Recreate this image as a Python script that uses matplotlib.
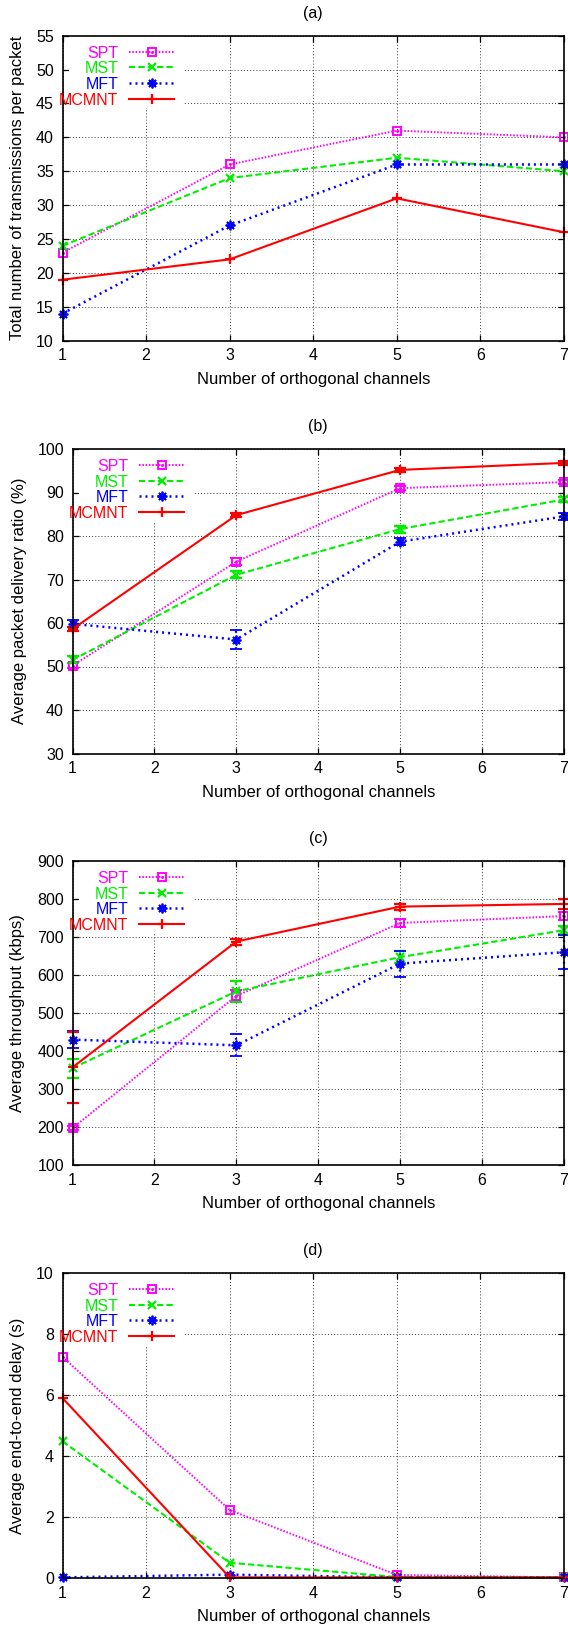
import matplotlib
matplotlib.use('Agg')
import matplotlib.pyplot as plt
from matplotlib.lines import Line2D
from matplotlib.patches import Rectangle

plt.rcParams['font.family'] = ['Liberation Sans', 'DejaVu Sans']
plt.rcParams['font.size'] = 11.5

W, H = 568, 1627

# ---------------- data ----------------
channels = [1, 3, 5, 7]
series_names = ['SPT', 'MST', 'MFT', 'MCMNT']

# (a) total number of transmissions per packet
tx_spt = [23, 36, 41, 40]
tx_mst = [24, 34, 37, 35]
tx_mft = [14, 27, 36, 36]
tx_mcmnt = [19, 22, 31, 26]

# (b) average packet delivery ratio (%)
pdr_spt = [50.2, 74.1, 91.0, 92.4]
pdr_mst = [51.5, 71.1, 81.6, 88.4]
pdr_mft = [59.8, 56.2, 78.7, 84.5]
pdr_mcmnt = [58.6, 84.8, 95.2, 96.8]
pdr_err_spt = [0.5, 0.8, 0.5, 0.5]
pdr_err_mst = [0.8, 0.8, 0.8, 0.5]
pdr_err_mft = [0.8, 2.2, 0.8, 0.8]
pdr_err_mcmnt = [0.5, 0.5, 0.5, 0.5]

# (c) average throughput (kbps)
thr_spt = [197, 545, 737, 755]
thr_mst = [355, 557, 647, 718]
thr_mft = [430, 415, 630, 660]
thr_mcmnt = [357, 688, 780, 787]
thr_err_spt = [5, 15, 10, 10]
thr_err_mst = [25, 28, 15, 10]
thr_err_mft = [23, 29, 34, 45]
thr_err_mcmnt = [93, 8, 8, 13]

# (d) average end-to-end delay (s)
dly_spt = [7.25, 2.23, 0.1, 0.02]
dly_mst = [4.48, 0.5, 0.03, 0.02]
dly_mft = [0.02, 0.11, 0.02, 0.02]
dly_mcmnt = [5.9, 0.02, 0.02, 0.02]

xticks = [1, 2, 3, 4, 5, 6, 7]
yticks_a = list(range(10, 56, 5))
yticks_b = list(range(30, 101, 10))
yticks_c = list(range(100, 901, 100))
yticks_d = list(range(0, 11, 2))
xlabel = 'Number of orthogonal channels'

# ---------------- styles ----------------
styles = {
    'SPT': dict(color='#ff00ff', ls=(0, (0.8, 0.9)), lw=1.4, marker='s', ms=6, mfc='none', mew=1.4),
    'MST': dict(color='#00ee00', ls=(0, (3.0, 1.5)), lw=1.5, marker='x', ms=5.5, mew=1.6),
    'MFT': dict(color='#0000ff', ls=(0, (0.8, 1.6)), lw=1.8, marker=(8, 2, 0), ms=7, mew=1.3),
    'MCMNT': dict(color='#ff0000', ls='-', lw=1.5, marker='+', ms=7, mew=1.6),
}

LABEL_FS = 12
TICK_FS = 11.5
KEY_FS = 11.5

fig = plt.figure(figsize=(W / 100, H / 100), dpi=100)


def panel(rect_px, tag, ylabel, ylim, yticks, values, errs=None, ylab_center=16.3):
    left, top, right, bottom = rect_px
    w, h = right - left, bottom - top
    ax = fig.add_axes([left / W, 1 - bottom / H, w / W, h / H])
    ax.set_axisbelow(True)
    for name, y in zip(series_names, values):
        st = styles[name]
        kw = dict(color=st['color'], linestyle=st['ls'], linewidth=st['lw'],
                  marker=st['marker'], markersize=st['ms'], markeredgewidth=st['mew'],
                  markerfacecolor=st.get('mfc', st['color']), zorder=3, clip_on=False)
        if errs is not None:
            e = errs[name]
            res = ax.errorbar(channels, y, yerr=e, capsize=4, capthick=1.2,
                              elinewidth=st['lw'] * 0.9, ecolor=st['color'], **kw)
            for bl in res[2]:
                bl.set_linestyle(st['ls'])
                bl.set_clip_on(False)
            for cl in res[1]:
                cl.set_clip_on(False)
        else:
            ax.plot(channels, y, **kw)
        if name == 'SPT':
            ax.plot(channels, y, linestyle='none', marker='.', markersize=2.2,
                    color=st['color'], zorder=4, clip_on=False)
    ax.set_xlim(1, 7)
    ax.set_ylim(*ylim)
    ax.set_xticks(xticks)
    ax.set_yticks(yticks)
    ax.grid(True, color='0.25', linewidth=0.7, linestyle=(0, (1, 2.2)))
    ax.tick_params(direction='in', top=True, right=True, length=4.2, width=0.9,
                   labelsize=TICK_FS)
    ax.tick_params(axis='x', pad=5.5)
    ax.tick_params(axis='y', pad=6.2)
    for sp in ax.spines.values():
        sp.set_linewidth(1.2)
        sp.set_zorder(5)
    ax.set_xlabel(xlabel, fontsize=LABEL_FS)
    ax.xaxis.set_label_coords(0.5, -31.0 / h)
    ax.set_ylabel(ylabel, fontsize=LABEL_FS)
    ax.yaxis.set_label_coords((ylab_center + 9.2 - left) / w, 0.5)
    ax.text(0.5, 1 + 22.3 / h, tag, transform=ax.transAxes, ha='center',
            va='center', fontsize=TICK_FS)
    # white key box covering the grid (gnuplot style)
    ax.add_patch(Rectangle((6 / w, 1 - 72 / h), 114.5 / w, 72 / h, transform=ax.transAxes,
                           facecolor='white', edgecolor='none', zorder=1))
    # key
    for i, name in enumerate(series_names):
        st = styles[name]
        yp = top + 15.8 + i * 15.8
        yf = 1 - yp / H
        fig.text((left + 56) / W, yf, name, color=st['color'], ha='right',
                 va='center_baseline', fontsize=KEY_FS)
        fig.add_artist(Line2D([(left + 66) / W, (left + 111) / W], [yf, yf],
                              transform=fig.transFigure, color=st['color'],
                              linestyle=st['ls'], linewidth=st['lw']))
        fig.add_artist(Line2D([(left + 89) / W], [yf], transform=fig.transFigure,
                              linestyle='none', color=st['color'], marker=st['marker'],
                              markersize=st['ms'], markeredgewidth=st['mew'],
                              markerfacecolor=st.get('mfc', st['color'])))
        if name == 'SPT':
            fig.add_artist(Line2D([(left + 89) / W], [yf], transform=fig.transFigure,
                                  linestyle='none', color=st['color'], marker='.',
                                  markersize=2.2))
    return ax


panel((62.5, 35.7, 564, 340.7), '(a)', 'Total number of transmissions per packet',
      (10, 55), yticks_a, [tx_spt, tx_mst, tx_mft, tx_mcmnt])

panel((72.5, 449, 564, 753.5), '(b)', 'Average packet delivery ratio (%)',
      (30, 100), yticks_b, [pdr_spt, pdr_mst, pdr_mft, pdr_mcmnt],
      errs={'SPT': pdr_err_spt, 'MST': pdr_err_mst, 'MFT': pdr_err_mft,
            'MCMNT': pdr_err_mcmnt}, ylab_center=17.4)

panel((72.5, 861, 564, 1165), '(c)', 'Average throughput (kbps)',
      (100, 900), yticks_c, [thr_spt, thr_mst, thr_mft, thr_mcmnt],
      errs={'SPT': thr_err_spt, 'MST': thr_err_mst, 'MFT': thr_err_mft,
            'MCMNT': thr_err_mcmnt})

panel((62.5, 1273, 564, 1578), '(d)', 'Average end-to-end delay (s)',
      (0, 10), yticks_d, [dly_spt, dly_mst, dly_mft, dly_mcmnt])

fig.savefig('out.png', dpi=100)
